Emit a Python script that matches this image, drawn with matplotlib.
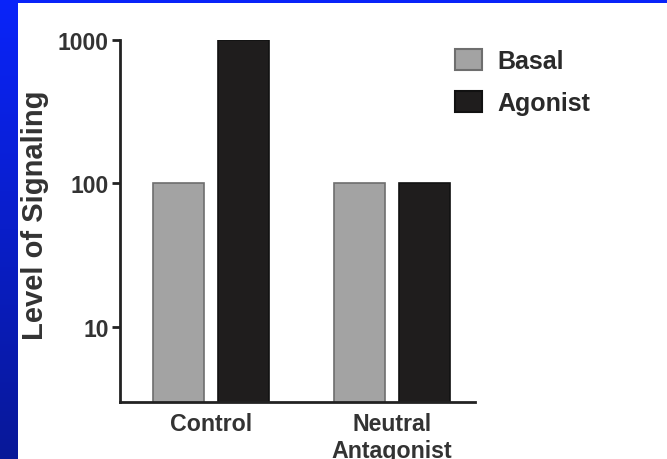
import matplotlib
matplotlib.use("Agg")
import matplotlib.pyplot as plt
import numpy as np
from matplotlib.patches import Rectangle

categories = ["Control", "Neutral\nAntagonist"]
series_names = ["Basal", "Agonist"]
basal = [100, 100]
agonist = [1000, 100]
yticks = [10, 100, 1000]
ytick_labels = ["10", "100", "1000"]

plt.rcParams['font.family'] = ['Liberation Sans', 'DejaVu Sans']
plt.rcParams['font.weight'] = 'bold'

W, H = 667, 460
fig = plt.figure(figsize=(W / 100, H / 100), dpi=100)

# blue slide background
bg = fig.add_axes([0, 0, 1, 1], zorder=-10)
grad = np.linspace(0, 1, 256).reshape(-1, 1)
top = np.array([0x0a, 0x24, 0xfa]) / 255
bot = np.array([0x08, 0x18, 0x98]) / 255
img = top[None, None, :] * (1 - grad[..., None]) + bot[None, None, :] * grad[..., None]
bg.imshow(img, aspect='auto', extent=[0, 1, 0, 1], origin='upper')
bg.add_patch(Rectangle((18 / W, 0), 1 - 18 / W, 1 - 4 / H, facecolor='white', edgecolor='none'))
bg.set_xlim(0, 1)
bg.set_ylim(0, 1)
bg.axis('off')

ax = fig.add_axes([120 / W, 1 - 403 / H, (475 - 120) / W, (403 - 41) / H])
ax.patch.set_alpha(0)

x = np.arange(len(categories))
w = 0.282
off = 0.18
ax.bar(x - off, basal, width=w, color='#a3a3a3', edgecolor='#6e6e6e', linewidth=1.2, label=series_names[0], zorder=2)
ax.bar(x + off, agonist, width=w, color='#1f1d1d', edgecolor='#111111', linewidth=1.2, label=series_names[1], zorder=2)

ax.set_yscale('log')
ax.set_ylim(3, 1000)
ax.set_xlim(-0.503, 1.459)
ax.set_yticks(yticks)
ax.set_yticklabels(ytick_labels)
ax.minorticks_off()
ax.set_xticks(x)
ax.set_xticklabels(categories, linespacing=1.24)
ax.tick_params(axis='x', length=0, pad=7, labelsize=16.7)
ax.tick_params(axis='y', length=6, width=2, pad=2, labelsize=16.5)
for lab in ax.get_xticklabels() + ax.get_yticklabels():
    lab.set_fontweight('bold')
    lab.set_color('#333333')

for s in ['top', 'right']:
    ax.spines[s].set_visible(False)
for s in ['left', 'bottom']:
    ax.spines[s].set_linewidth(2)
    ax.spines[s].set_color('#222222')
ax.tick_params(axis='y', color='#222222')

fig.text(35 / W, 1 - 215 / H, "Level of Signaling", rotation=90, ha='center', va='center',
         fontsize=21, fontweight='bold', color='#333333')

leg = fig.legend(loc='upper left', bbox_to_anchor=(455 / W, 1 - 50 / H), frameon=False,
                 fontsize=18, handlelength=1.08, handleheight=0.92, handletextpad=0.62,
                 labelspacing=0.72, borderaxespad=0, borderpad=0)
for t in leg.get_texts():
    t.set_fontweight('bold')
    t.set_color('#2a2a2a')
for h in leg.legend_handles:
    h.set_linewidth(1.5)

fig.savefig("out.png", dpi=100)
